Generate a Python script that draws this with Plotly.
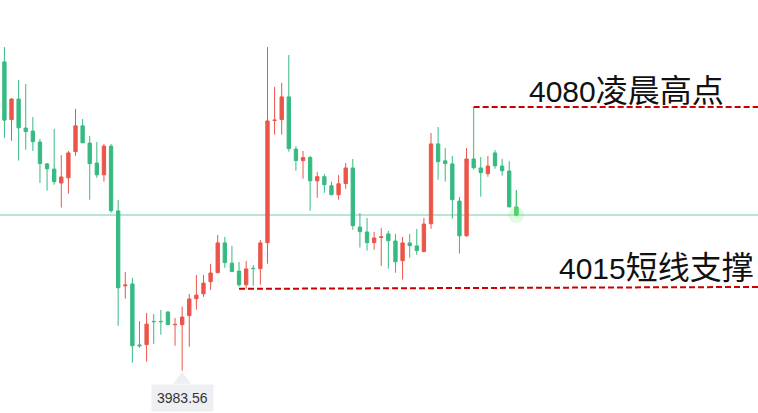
import plotly.graph_objects as go

# ---- data ----
opens = [4096.5, 4075.4, 4082.9, 4072.3, 4071.2, 4067.2, 4059.2, 4057.3, 4052.2, 4054.1,
         4063.7, 4073.1, 4066.8, 4059.5, 4055.2, 4065.7, 4042.0, 4014.6, 4015.3, 3993.0,
         3993.1, 4001.6, 4001.6, 4005.0, 4000.4, 4000.4, 4003.7, 4009.9, 4011.7, 4016.1,
         4019.4, 4030.3, 4022.9, 4020.0, 4015.0, 4021.0, 4020.9, 4030.4, 4075.1, 4075.4,
         4083.7, 4064.6, 4060.4, 4061.5, 4053.0, 4054.5, 4051.2, 4047.9, 4052.0, 4057.7,
         4036.1, 4034.3, 4030.4, 4032.3, 4033.6, 4031.0, 4023.8, 4030.3, 4029.2, 4027.1,
         4037.3, 4066.5, 4060.3, 4059.2, 4045.6, 4032.9, 4061.0, 4057.7, 4055.6, 4063.2,
         4058.4, 4056.6, 4043.4]
highs = [4101.9, 4083.3, 4089.9, 4088.4, 4076.3, 4068.3, 4059.5, 4072.0, 4062.4, 4063.9,
         4079.3, 4075.6, 4069.4, 4067.2, 4066.5, 4066.5, 4046.0, 4019.7, 4017.5, 4001.7,
         4004.7, 4004.3, 4005.8, 4005.4, 4002.8, 4007.0, 4011.6, 4018.6, 4018.6, 4022.6,
         4033.2, 4032.5, 4029.2, 4023.3, 4023.7, 4022.2, 4031.4, 4101.9, 4087.3, 4088.8,
         4099.0, 4065.7, 4063.9, 4062.1, 4056.2, 4055.5, 4052.7, 4055.1, 4059.5, 4061.0,
         4041.2, 4039.4, 4034.3, 4035.7, 4034.7, 4033.6, 4032.5, 4033.6, 4035.4, 4039.4,
         4070.5, 4072.7, 4065.0, 4062.1, 4047.1, 4065.0, 4080.0, 4061.7, 4062.1, 4064.3,
         4061.0, 4060.2, 4049.6]
lows = [4068.7, 4067.7, 4060.4, 4064.4, 4063.9, 4052.2, 4049.4, 4051.6, 4043.2, 4048.3,
        4062.2, 4066.9, 4046.1, 4054.1, 4052.7, 4041.3, 4000.0, 4009.9, 3986.5, 3992.0,
        3986.9, 3993.4, 3996.7, 4000.4, 3992.7, 3983.56, 3992.3, 4005.9, 4010.6, 4013.1,
        4019.4, 4021.2, 4019.8, 4014.3, 4013.6, 4014.6, 4015.0, 4022.7, 4069.9, 4069.9,
        4063.7, 4056.7, 4053.8, 4042.1, 4046.8, 4048.6, 4047.9, 4046.1, 4050.1, 4035.1,
        4028.6, 4027.5, 4027.8, 4021.9, 4020.9, 4019.4, 4016.9, 4024.9, 4026.0, 4027.1,
        4035.5, 4053.4, 4052.7, 4039.2, 4026.4, 4032.6, 4057.1, 4047.2, 4054.5, 4057.4,
        4054.9, 4043.2, 4040.1]
closes = [4075.2, 4082.9, 4072.4, 4071.0, 4067.3, 4059.3, 4057.4, 4052.7, 4054.4, 4063.2,
          4073.1, 4066.9, 4059.3, 4055.2, 4065.7, 4042.1, 4013.9, 4014.9, 3992.7, 3992.7,
          4000.6, 4001.5, 4001.5, 4000.4, 4000.5, 4003.2, 4009.8, 4011.2, 4015.6, 4019.3,
          4030.3, 4023.1, 4019.8, 4015.0, 4020.8, 4020.9, 4030.3, 4074.9, 4075.2, 4083.7,
          4064.8, 4060.4, 4061.5, 4053.0, 4054.5, 4051.6, 4047.9, 4051.9, 4057.7, 4036.6,
          4034.4, 4030.4, 4032.1, 4032.5, 4031.1, 4023.4, 4030.3, 4029.3, 4027.5, 4037.2,
          4066.5, 4060.0, 4059.3, 4046.1, 4032.9, 4061.0, 4057.8, 4056.0, 4058.4, 4058.5,
          4056.7, 4043.5, 4040.5]
xs = list(range(len(opens)))

high_level = 4080.0          # 凌晨高点
high_start = 66              # candle where the high line starts
support_start = 33           # candle where the support line starts
support_levels = [4013.5, 4014.2]
low_idx = 25
low_value = 3983.56
label_high = ("4080", "凌晨高点")
label_support = ("4015", "短线支撑")

RED = "#EB5549"
GREEN = "#37BA82"
X_RANGE = [-0.62, 105.99]
Y_RANGE = [3968.1, 4119.13]

fig = go.Figure()
fig.add_trace(go.Candlestick(
    x=xs, open=opens, high=highs, low=lows, close=closes,
    increasing=dict(line=dict(color=RED, width=1), fillcolor=RED),
    decreasing=dict(line=dict(color=GREEN, width=1), fillcolor=GREEN),
    whiskerwidth=0, hoverinfo="skip", showlegend=False,
))
# highlighted last candle
li = len(xs) - 1
fig.add_trace(go.Scatter(
    x=[xs[li]], y=[closes[li]], mode="markers",
    marker=dict(size=16, color="rgba(120,235,120,0.22)", line=dict(width=0)),
    hoverinfo="skip", showlegend=False,
))
fig.add_trace(go.Candlestick(
    x=[xs[li]], open=[opens[li]], high=[highs[li]], low=[lows[li]], close=[closes[li]],
    increasing=dict(line=dict(color="#4CCB6A", width=1), fillcolor="#4CCB6A"),
    decreasing=dict(line=dict(color="#4CCB6A", width=1), fillcolor="#4CCB6A"),
    whiskerwidth=0, hoverinfo="skip", showlegend=False,
))

DASH = "6px,3px"
shapes = [
    # current price line
    dict(type="line", xref="paper", x0=0, x1=1, yref="y", y0=closes[li], y1=closes[li],
         line=dict(color="#A3DCC4", width=1.3), layer="below"),
    # high dashed line
    dict(type="line", xref="x", x0=high_start, x1=X_RANGE[1], yref="y",
         y0=high_level, y1=high_level, line=dict(color="#CC0000", width=2, dash=DASH)),
    # support dashed line
    dict(type="line", xref="x", x0=support_start, x1=X_RANGE[1], yref="y",
         y0=support_levels[0], y1=support_levels[1],
         line=dict(color="#CC0000", width=2, dash=DASH)),
    # tooltip pointer
    dict(type="path", xref="x", yref="y", xsizemode="pixel", ysizemode="pixel",
         xanchor=low_idx, yanchor=low_value, path="M-9,-13 L0,-1 L9,-13 Z",
         fillcolor="#EDEFF2", line=dict(width=0)),
]


def label(parts):
    return f"{parts[0]}<span style='font-size:32px'>{parts[1]}</span>"


FONT = dict(family="Liberation Sans, Noto Sans CJK SC", size=30, color="#111")
annotations = [
    dict(text=label(label_high), xref="paper", yref="paper", x=527 / 758, y=1 - 91 / 413,
         xanchor="left", yanchor="middle", showarrow=False, font=FONT),
    dict(text=label(label_support), xref="paper", yref="paper", x=1.0, y=1 - 268 / 413,
         xanchor="right", yanchor="middle", xshift=-2, showarrow=False, font=FONT),
    dict(text=f"{low_value:.2f}", xref="x", yref="y", x=low_idx, y=low_value,
         xanchor="center", yanchor="top", yshift=-13, showarrow=False,
         bgcolor="#EDEFF2", borderpad=5,
         font=dict(family="Liberation Sans, Arial", size=14, color="#333")),
]

fig.update_layout(
    width=758, height=413, margin=dict(l=0, r=0, t=0, b=0),
    paper_bgcolor="white", plot_bgcolor="white",
    xaxis=dict(range=X_RANGE, visible=False, rangeslider=dict(visible=False), fixedrange=True),
    yaxis=dict(range=Y_RANGE, visible=False, fixedrange=True),
    shapes=shapes, annotations=annotations, showlegend=False,
    boxgap=0.33,
)
fig.write_html("out.html")
